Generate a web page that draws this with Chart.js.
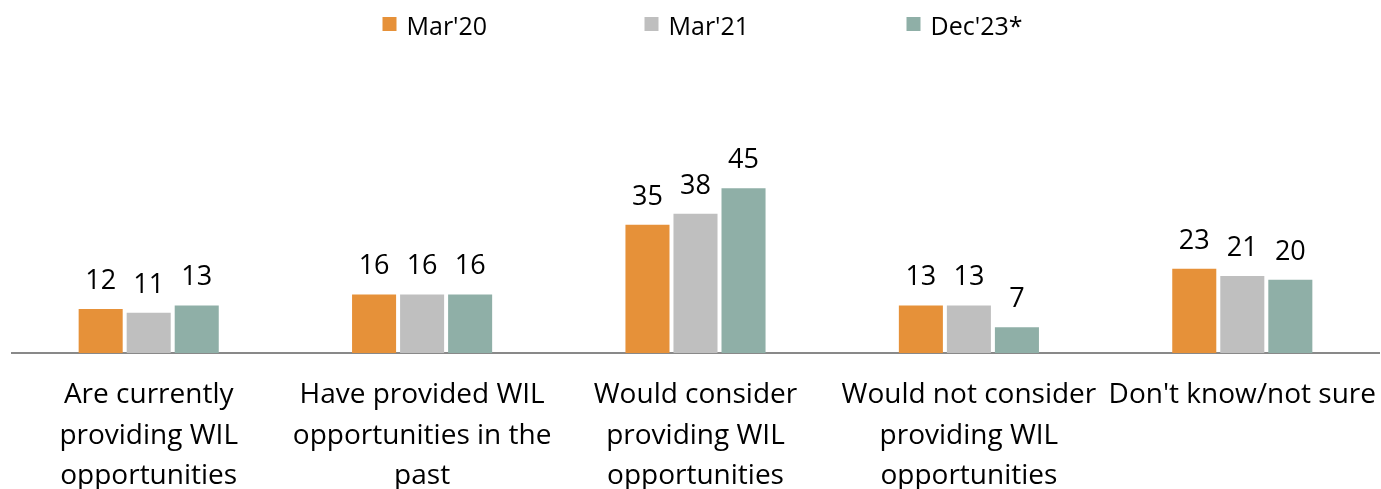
<!DOCTYPE html>
<html>
<head>
<meta charset="utf-8">
<script src="https://cdn.jsdelivr.net/npm/chart.js@4.4.0/dist/chart.umd.min.js"></script>
<style>
  html, body { margin: 0; padding: 0; background: #fff; }
  #wrap { width: 1381px; height: 489px; }
</style>
</head>
<body>
<div id="wrap"><canvas id="chart"></canvas></div>
<script>
// Categorie e valori (%)
const categories = [
    ['Are currently', 'providing WIL', 'opportunities'],
    ['Have provided WIL', 'opportunities in the', 'past'],
    ['Would consider', 'providing WIL', 'opportunities'],
    ['Would not consider', 'providing WIL', 'opportunities'],
    ["Don't know/not sure"]
];
const seriesNames = ["Mar'20", "Mar'21", "Dec'23*"];
const mar20 = [12, 16, 35, 13, 23];
const mar21 = [11, 16, 38, 13, 21];
const dec23 = [13, 16, 45, 7, 20];

const colori = ['#E69139', '#BFBFBF', '#8FAFA7'];
const fontFamily = '"Open Sans", sans-serif';

// Etichette dei valori sopra le barre
const valueLabels = {
    id: 'valueLabels',
    afterDatasetsDraw(chart) {
        const ctx = chart.ctx;
        ctx.save();
        ctx.font = '27px ' + fontFamily;
        ctx.fillStyle = '#000';
        ctx.textAlign = 'center';
        ctx.textBaseline = 'alphabetic';
        chart.data.datasets.forEach((ds, i) => {
            chart.getDatasetMeta(i).data.forEach((bar, j) => {
                ctx.fillText(ds.data[j], bar.x, bar.y - 20);
            });
        });
        ctx.restore();
    }
};

// Legenda in alto, voci distanziate a passo fisso
const legendaAlta = {
    id: 'legendaAlta',
    afterDraw(chart) {
        const ctx = chart.ctx;
        const area = chart.chartArea;
        const passo = 262;
        const x0 = (area.left + area.right) / 2 - 313;
        ctx.save();
        ctx.font = '25px ' + fontFamily;
        ctx.textBaseline = 'alphabetic';
        ctx.textAlign = 'left';
        chart.data.datasets.forEach((ds, i) => {
            const x = x0 + i * passo;
            ctx.fillStyle = ds.backgroundColor;
            ctx.fillRect(x, 17, 14, 14);
            ctx.fillStyle = '#000';
            ctx.fillText(ds.label, x + 24, 35);
        });
        ctx.restore();
    }
};

const data = {
    labels: categories,
    datasets: seriesNames.map((nome, i) => ({
        label: nome,
        data: [mar20, mar21, dec23][i],
        backgroundColor: colori[i]
    }))
};

const config = {
    type: 'bar',
    data,
    options: {
        responsive: true,
        maintainAspectRatio: false,
        animation: false,
        layout: { padding: { left: 12, right: 2, top: 60, bottom: 0 } },
        datasets: {
            bar: { barPercentage: 0.917, categoryPercentage: 0.527 }
        },
        scales: {
            x: {
                grid: { display: false, drawTicks: false },
                border: { color: '#898989', width: 2 },
                ticks: {
                    color: '#000',
                    font: { family: fontFamily, size: 28, lineHeight: 1.45 },
                    maxRotation: 0,
                    autoSkip: false,
                    padding: 22
                },
                afterFit(scale) {
                    scale.height = 136;
                    // niente margine extra ai lati per le etichette
                    scale.paddingLeft = 0;
                    scale.paddingRight = 0;
                }
            },
            y: {
                display: false,
                min: 0,
                max: 80
            }
        },
        plugins: {
            legend: { display: false },
            tooltip: { enabled: false }
        }
    },
    plugins: [valueLabels, legendaAlta]
};

const myChart = new Chart(document.getElementById('chart'), config);
</script>
</body>
</html>
